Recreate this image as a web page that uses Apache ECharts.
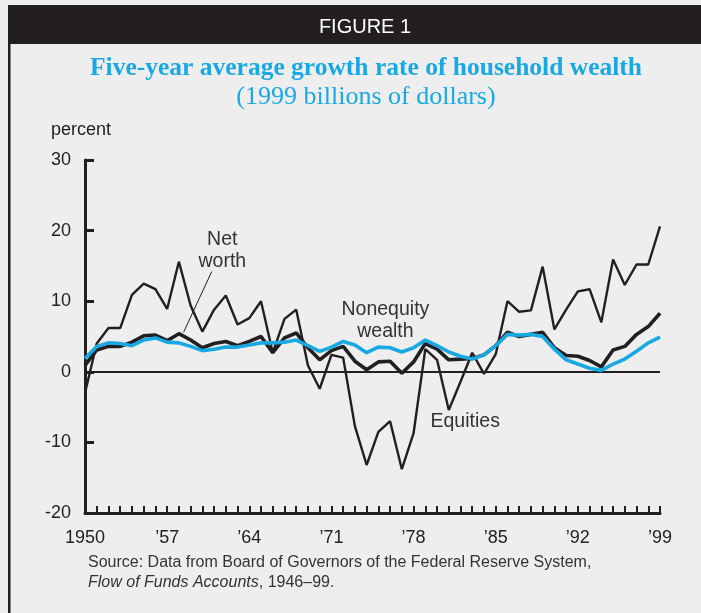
<!DOCTYPE html>
<html>
<head>
<meta charset="utf-8">
<script src="https://cdn.jsdelivr.net/npm/echarts@6/dist/echarts.min.js"></script>
<style>
  html, body { margin: 0; padding: 0; background: #eeeeee; }
  #chart { width: 701px; height: 613px; }
</style>
</head>
<body>
<div id="chart"></div>
<script>
// years 1950..1999
const years = [
  1950, 1951, 1952, 1953, 1954, 1955, 1956, 1957, 1958, 1959,
  1960, 1961, 1962, 1963, 1964, 1965, 1966, 1967, 1968, 1969,
  1970, 1971, 1972, 1973, 1974, 1975, 1976, 1977, 1978, 1979,
  1980, 1981, 1982, 1983, 1984, 1985, 1986, 1987, 1988, 1989,
  1990, 1991, 1992, 1993, 1994, 1995, 1996, 1997, 1998, 1999
]

const equities = [
  -3.0, 4.0, 6.2, 6.2, 10.9, 12.5, 11.7, 8.9, 15.6, 9.4,
  5.7, 8.8, 10.8, 6.7, 7.6, 10.0, 2.7, 7.5, 8.8, 0.9,
  -2.4, 2.4, 2.0, -7.7, -13.2, -8.5, -7.0, -13.8, -8.7, 3.2,
  1.7, -5.4, -1.4, 2.7, -0.3, 2.5, 10.0, 8.5, 8.7, 14.9,
  6.0, 8.8, 11.4, 11.7, 7.0, 15.9, 12.3, 15.2, 15.2, 20.6
]

const netWorth = [
  0.9, 3.1, 3.6, 3.6, 4.2, 5.1, 5.2, 4.4, 5.4, 4.5,
  3.4, 4.0, 4.3, 3.7, 4.3, 5.0, 2.7, 4.8, 5.5, 3.4,
  1.7, 3.0, 3.6, 1.5, 0.3, 1.4, 1.5, -0.2, 1.4, 4.0,
  3.2, 1.7, 1.8, 1.9, 2.4, 3.7, 5.6, 5.0, 5.3, 5.6,
  3.4, 2.3, 2.2, 1.6, 0.7, 3.1, 3.6, 5.3, 6.4, 8.3
]

const nonequity = [
  1.9, 3.6, 4.1, 4.0, 3.7, 4.5, 4.8, 4.2, 4.1, 3.6,
  3.0, 3.2, 3.5, 3.5, 3.8, 4.1, 4.1, 4.2, 4.5, 3.7,
  2.9, 3.5, 4.3, 3.8, 2.7, 3.5, 3.4, 2.8, 3.4, 4.5,
  3.7, 2.8, 2.2, 1.8, 2.4, 3.7, 5.3, 5.2, 5.3, 5.0,
  3.2, 1.7, 1.1, 0.5, 0.2, 1.1, 1.8, 2.9, 4.1, 4.9
]

const xTickLabels = {
  1950: '1950', 1957: '\u201957', 1964: '\u201964', 1971: '\u201971',
  1978: '\u201978', 1985: '\u201985', 1992: '\u201992', 1999: '\u201999'
}

const pair = (vals) => years.map((y, i) => [y, vals[i]])

const sans = 'Liberation Sans, Arial, sans-serif'
const serif = 'Liberation Serif, Times New Roman, serif'
const ink = '#231f20'
const blue = '#19a9e2'

const chart = echarts.init(document.getElementById('chart'), null, { renderer: 'canvas' })

const seriesLabel = {
  show: true,
  position: 'inside',
  fontFamily: sans,
  fontSize: 19.5,
  lineHeight: 22,
  color: '#333333'
}

chart.setOption({
  backgroundColor: '#eeeeee',
  animation: false,
  title: [
    {
      text: 'FIGURE 1',
      left: 360,
      textAlign: 'center',
      top: 12,
      textStyle: { color: '#ffffff', fontFamily: sans, fontSize: 20, fontWeight: 'normal' }
    },
    {
      text: 'Five-year average growth rate of household wealth',
      subtext: '(1999 billions of dollars)',
      left: 361,
      textAlign: 'center',
      top: 50,
      itemGap: 3,
      textStyle: { color: blue, fontFamily: serif, fontSize: 25.5, fontWeight: 'bold' },
      subtextStyle: { color: blue, fontFamily: serif, fontSize: 26 }
    }
  ],
  graphic: [
    { type: 'rect', z: -1, shape: { x: 10, y: 5, width: 691, height: 39 }, style: { fill: ink } },
    { type: 'rect', z: -1, shape: { x: 8, y: 5, width: 2.5, height: 608 }, style: { fill: ink } },
    {
      type: 'text',
      left: 88,
      top: 553,
      style: {
        text: 'Source: Data from Board of Governors of the Federal Reserve System,\n{i|Flow of Funds Accounts}, 1946\u201399.',
        fontFamily: sans,
        fontSize: 16,
        lineHeight: 20,
        fill: '#333333',
        rich: { i: { fontStyle: 'italic', fontFamily: sans, fontSize: 16, fill: '#333333' } }
      }
    }
  ],
  grid: { left: 85, right: 41, top: 160, bottom: 100 },
  xAxis: {
    type: 'value',
    min: 1950,
    max: 1999,
    interval: 1,
    splitLine: { show: false },
    axisLine: { onZero: false, lineStyle: { color: ink, width: 3 } },
    axisTick: { inside: true, length: 7, lineStyle: { color: ink, width: 2 } },
    axisLabel: {
      margin: 16,
      fontFamily: sans,
      fontSize: 18,
      color: '#222222',
      formatter: (v) => xTickLabels[v] || ''
    }
  },
  yAxis: {
    type: 'value',
    min: -20,
    max: 30,
    interval: 10,
    name: 'percent',
    nameLocation: 'end',
    nameGap: 21,
    nameTextStyle: { fontFamily: sans, fontSize: 18, color: '#222222', align: 'center', padding: [0, 0, 0, -8] },
    splitLine: { show: false },
    axisLine: { show: true, lineStyle: { color: ink, width: 3 } },
    axisTick: { show: true, inside: true, length: 9, lineStyle: { color: ink, width: 3 } },
    axisLabel: { margin: 14, fontFamily: sans, fontSize: 18, color: '#222222' }
  },
  series: [
    {
      name: 'Equities',
      type: 'line',
      data: pair(equities),
      showSymbol: false,
      lineStyle: { color: ink, width: 2.4 },
      z: 3,
      markLine: {
        silent: true,
        symbol: 'none',
        label: { show: false },
        lineStyle: { color: ink, width: 2, type: 'solid' },
        data: [{ yAxis: 0 }]
      },
      markPoint: {
        symbol: 'circle',
        symbolSize: 0,
        label: seriesLabel,
        data: [{ coord: [1982.4, -7.1], value: 'Equities' }]
      }
    },
    {
      name: 'Net worth',
      type: 'line',
      data: pair(netWorth),
      showSymbol: false,
      lineStyle: { color: ink, width: 3.6 },
      z: 4,
      markLine: {
        silent: true,
        symbol: 'none',
        label: { show: false },
        lineStyle: { color: ink, width: 1, type: 'solid' },
        data: [[{ coord: [1960.8, 14.2] }, { coord: [1958.4, 5.6] }]]
      },
      markPoint: {
        symbol: 'circle',
        symbolSize: 0,
        label: seriesLabel,
        data: [{ coord: [1961.7, 17.2], value: 'Net\nworth' }]
      }
    },
    {
      name: 'Nonequity wealth',
      type: 'line',
      data: pair(nonequity),
      showSymbol: false,
      lineStyle: { color: blue, width: 3.6 },
      z: 5,
      markPoint: {
        symbol: 'circle',
        symbolSize: 0,
        label: seriesLabel,
        data: [{ coord: [1975.6, 7.3], value: 'Nonequity\nwealth' }]
      }
    }
  ]
})
</script>
</body>
</html>
